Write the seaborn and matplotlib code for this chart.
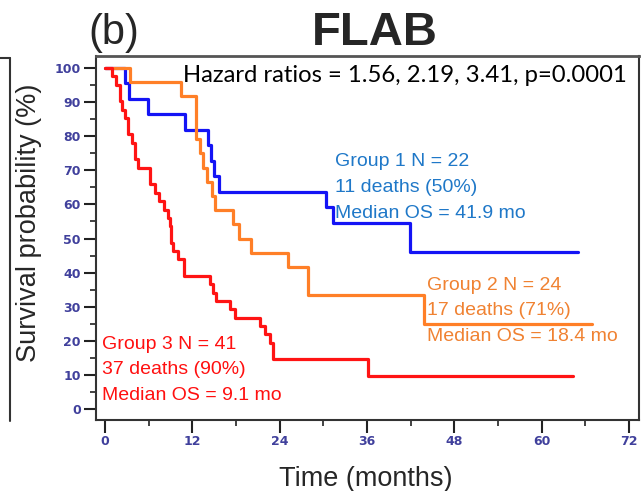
import matplotlib
matplotlib.use("Agg")
import matplotlib.pyplot as plt
from matplotlib.lines import Line2D
from matplotlib.ticker import MultipleLocator
import seaborn as sns
import pandas as pd

# ---- data ----
g1_times = [0, 2.7, 3.3, 5.9, 11.0, 14.2, 14.6, 15.0, 15.7, 30.4, 31.4, 41.9, 65.0]
g1_surv = [100, 95.5, 90.9, 86.4, 81.8, 77.3, 72.7, 68.2, 63.6, 59.1, 54.5, 46.0, 46.0]

g2_times = [0, 3.4, 10.5, 12.5, 13.1, 13.5, 14.0, 14.7, 15.1, 17.6, 18.4, 20.1, 25.2, 27.9, 43.8, 67.0]
g2_surv = [100, 95.8, 91.7, 79.2, 75.0, 70.8, 66.7, 62.5, 58.3, 54.2, 50.0, 45.8, 41.7, 33.3, 25.0, 25.0]

g3_times = [0, 0.9, 1.5, 2.1, 2.3, 2.7, 3.2, 3.7, 4.1, 4.6, 6.2, 6.9, 7.4, 8.1, 8.7, 8.9, 9.1,
            9.4, 10.1, 10.8, 14.4, 14.9, 15.3, 17.2, 17.9, 21.3, 22.0, 22.7, 23.1, 36.2, 64.3]
g3_surv = [100, 97.6, 95.1, 90.2, 87.8, 85.4, 80.5, 78.0, 73.2, 70.7, 65.9, 63.4, 61.0, 58.5, 56.1,
           53.7, 48.8, 46.3, 43.9, 39.0, 36.6, 34.1, 31.7, 29.3, 26.8, 24.4, 22.0, 19.5, 14.6, 9.8, 9.8]

groups = ["Group 1", "Group 2", "Group 3"]
line_colors = ["#1414F5", "#FF7F27", "#FF1414"]
text_colors = ["#1F78C8", "#F08232", "#FF1010"]
group_labels = [
    ["Group 1 N = 22", "11 deaths (50%)", "Median OS = 41.9 mo"],
    ["Group 2 N = 24", "17 deaths (71%)", "Median OS = 18.4 mo"],
    ["Group 3 N = 41", "37 deaths (90%)", "Median OS = 9.1 mo"],
]
hazard_text = "Hazard ratios = 1.56, 2.19, 3.41, p=0.0001"
x_ticks = [0, 12, 24, 36, 48, 60, 72]
y_ticks = [0, 10, 20, 30, 40, 50, 60, 70, 80, 90, 100]

frames = []
for name, t, s in zip(groups, [g1_times, g2_times, g3_times], [g1_surv, g2_surv, g3_surv]):
    frames.append(pd.DataFrame({"time": t, "surv": s, "group": name}))
df = pd.concat(frames, ignore_index=True)

# ---- style ----
sns.set_style("white")
plt.rcParams["font.family"] = ["Liberation Sans", "DejaVu Sans"]

W, H = 642, 491
fig = plt.figure(figsize=(W / 100, H / 100), dpi=100)
L, R, T, B = 96, 639, 56, 420
ax = fig.add_axes([L / W, 1 - B / H, (R - L) / W, (B - T) / H])

sns.lineplot(data=df, x="time", y="surv", hue="group", palette=line_colors,
             estimator=None, sort=False, drawstyle="steps-post", linewidth=2.3,
             legend=False, ax=ax)

ax.set_xlim(-1.24, 73.4)
ax.set_ylim(-3.2, 103.5)
ax.set_xticks(x_ticks)
ax.set_yticks(y_ticks)
ax.xaxis.set_minor_locator(MultipleLocator(6))
ax.yaxis.set_minor_locator(MultipleLocator(5))
ax.tick_params(which="major", direction="out", length=9, width=1.5, color="#222222",
               labelsize=9, labelcolor="#40409C", pad=2, bottom=True, left=True)
ax.tick_params(which="minor", direction="out", length=4, width=1.2, color="#222222",
               bottom=True, left=True)
for lab in ax.get_xticklabels() + ax.get_yticklabels():
    lab.set_fontfamily("DejaVu Sans")
    lab.set_fontweight("bold")
ax.set_xlabel("")
ax.set_ylabel("")
for sp in ax.spines.values():
    sp.set_visible(True)
    sp.set_color("#333333")
    sp.set_linewidth(1.5)
ax.spines["top"].set_color("#555555")
ax.spines["top"].set_linewidth(2)

# hazard text, fitted to its width in the reference
ht = ax.text(10.7, 96.0, hazard_text, fontsize=16, family=["Lato", "DejaVu Sans"],
             color="black", va="baseline", ha="left")
fig.canvas.draw()
w = ht.get_window_extent().width
ht.set_fontsize(16 * 445 / w)

# group annotations
anchors = [(31.6, [71.3, 63.6, 56.0]), (44.2, [34.9, 27.6, 19.9]), (-0.4, [17.6, 10.3, 2.6])]
for (x0, ys), lines, col in zip(anchors, group_labels, text_colors):
    for yy, txt in zip(ys, lines):
        ax.text(x0, yy, txt, color=col, fontsize=14, va="baseline", ha="left")

# titles and axis labels
fig.text(88 / W, 1 - 44 / H, "(b)", fontsize=30, ha="left", va="baseline")
fig.text(375 / W, 1 - 45 / H, "FLAB", fontsize=34, weight="bold", ha="center", va="baseline")
fig.text(366 / W, 1 - 486 / H, "Time (months)", fontsize=19.5, ha="center", va="baseline")
fig.text(29 / W, 1 - 223 / H, "Survival probability (%)", fontsize=19.5, rotation=90,
         ha="center", va="center")

# frame edge of the neighbouring panel at the far left
fig.add_artist(Line2D([10 / W, 10 / W], [1 - 58 / H, 1 - 421 / H], color="#333333", lw=1.5))
fig.add_artist(Line2D([0, 10 / W], [1 - 58 / H, 1 - 58 / H], color="#333333", lw=1.5))

fig.savefig("out.png", dpi=100)
